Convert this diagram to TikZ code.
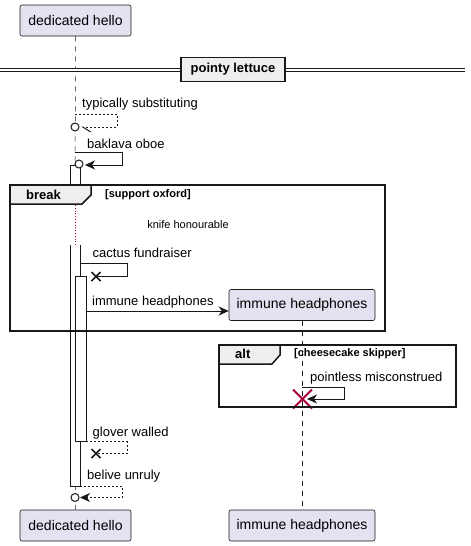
\documentclass[tikz,border=0pt]{standalone}
\usepackage{fontspec}
\setmainfont{Liberation Sans}
\usepackage{xcolor}
\usetikzlibrary{arrows.meta,calc}

\definecolor{ink}{HTML}{181818}
\definecolor{partfill}{HTML}{E2E2F0}
\definecolor{tabfill}{HTML}{EEEEEE}
\definecolor{killred}{HTML}{A80036}

\tikzset{
    part/.style={draw=ink,fill=partfill,rounded corners=2pt,line width=0.6pt,minimum height=31pt,inner sep=0pt,font=\fontsize{14}{16}\selectfont},
    life/.style={ink,line width=0.5pt,dash pattern=on 5pt off 5pt},
    msg/.style={ink,line width=1pt},
    ret/.style={ink,line width=1pt,dash pattern=on 2pt off 2pt},
    tip/.style={-{Stealth[length=10pt,width=9pt,inset=3pt]}},
    halftip/.style={-{Straight Barb[left,length=8pt,width=10pt]}},
    lbl/.style={anchor=west,inner sep=0pt},
    bar/.style={draw=ink,fill=white,line width=1pt},
    frame/.style={draw=ink,line width=1.5pt},
    tab/.style={draw=ink,fill=tabfill,line width=1.5pt},
    tabtext/.style={anchor=west,inner sep=0pt,font=\bfseries\fontsize{13}{15}\selectfont},
    guard/.style={anchor=west,inner sep=0pt,font=\bfseries\fontsize{11}{13}\selectfont},
    ring/.style={draw=ink,fill=white,line width=1pt}
}

\begin{document}
\begin{tikzpicture}[x=1pt,y=-1pt,font=\fontsize{13}{15}\selectfont]
    \useasboundingbox (0,0) rectangle (471,546);
    \node[part,minimum width=111pt] (helloT) at (75.5,20.5) {dedicated hello};
    \node[part,minimum width=111pt] (helloB) at (75.5,525.5) {dedicated hello};
    \node[part,minimum width=146pt] (headM) at (302,305) {immune headphones};
    \node[part,minimum width=146pt] (headB) at (302,525.5) {immune headphones};
    \coordinate (D1) at (75,205);
    \coordinate (D2) at (75,245);
    \draw[life] (helloT.south) -- (D1);
    \draw[killred,line width=0.8pt,dotted] (D1) -- (D2);
    \draw[life] (D2) -- (helloB.north);
    \draw[life] (headM.south) -- (headB.north);

    \draw[double=white,ink,line width=1pt,double distance=1.5pt] (0,70) -- (465,70);
    \node[draw=ink,fill=tabfill,line width=1.5pt,minimum width=104pt,minimum height=24pt,inner sep=0pt,font=\bfseries\fontsize{13}{15}\selectfont] (split) at (233,69.5) {pointy lettuce};

    \draw[bar] (70,165) rectangle (80,204);
    \fill[white] (70,245) rectangle (80,486);
    \draw[bar] (70,245) -- (70,486) -- (80,486) -- (80,245);
    \draw[bar] (75,276) rectangle (86,441);

    \coordinate (A1) at (75,114);
    \coordinate (A2) at (81,127);
    \draw[ret,halftip] (A1) -- (117,114) -- (117,127) -- (A2);
    \draw[ring] (75,127) circle(4);
    \node[lbl] at (82,104) {typically substituting};

    \coordinate (B1) at (75,152.5);
    \coordinate (B2) at (85,165);
    \draw[msg,tip] (B1) -- (122,152.5) -- (122,165) -- (B2);
    \draw[ring] (79,164) circle(4);
    \node[lbl] at (87,144) {baklava oboe};

    \coordinate (C1) at (80,263);
    \coordinate (C2) at (96,276.5);
    \draw[msg] (C1) -- (127,263) -- (127,276.5) -- (C2);
    \draw[ink,line width=1.5pt] ($(C2)+(-4.5,-4.5)$) -- ($(C2)+(4.5,4.5)$) ($(C2)+(-4.5,4.5)$) -- ($(C2)+(4.5,-4.5)$);
    \node[lbl] at (92.5,253) {cactus fundraiser};

    \coordinate (E1) at (86,311);
    \draw[msg,tip] (E1) -- (E1 -| headM.west);
    \node[lbl] at (92,302) {immune headphones};

    \coordinate (F1) at (302,387);
    \coordinate (F2) at (302.5,399);
    \draw[msg,tip] (F1) -- (344,387) -- (344,399) -- (307,399);
    \draw[killred,line width=2pt] ($(F2)+(-9.5,-9.5)$) -- ($(F2)+(9.5,9.5)$) ($(F2)+(-9.5,9.5)$) -- ($(F2)+(9.5,-9.5)$);
    \node[lbl] at (310,378) {pointless misconstrued};

    \coordinate (G1) at (86,441.5);
    \coordinate (G2) at (96,453.5);
    \draw[ret] (G1) -- (127,441.5) -- (127,453.5) -- (G2);
    \draw[ink,line width=1.5pt] ($(G2)+(-4.5,-4.5)$) -- ($(G2)+(4.5,4.5)$) ($(G2)+(-4.5,4.5)$) -- ($(G2)+(4.5,-4.5)$);
    \node[lbl] at (92.5,433) {glover walled};

    \coordinate (H1) at (80,486);
    \coordinate (H2) at (80,497.5);
    \draw[ret,tip] (H1) -- (122,486) -- (122,497.5) -- (H2);
    \draw[ring] (75,497.5) circle(4);
    \node[lbl] at (87,476) {belive unruly};

    \draw[frame] (10,185) rectangle (385,331);
    \filldraw[tab] (10,185) -- (91,185) -- (91,195) -- (82,204) -- (10,204) -- cycle;
    \node[tabtext] at (26,195) {break};
    \node[guard] at (105,194.5) {[support oxford]};
    \node[font=\fontsize{11}{13}\selectfont] at (188,225) {knife honourable};

    \draw[frame] (219,345) rectangle (456,407);
    \filldraw[tab] (219,345) -- (280,345) -- (280,355) -- (272,364) -- (219,364) -- cycle;
    \node[tabtext] at (235,354) {alt};
    \node[guard] at (294,354) {[cheesecake skipper]};
\end{tikzpicture}
\end{document}
